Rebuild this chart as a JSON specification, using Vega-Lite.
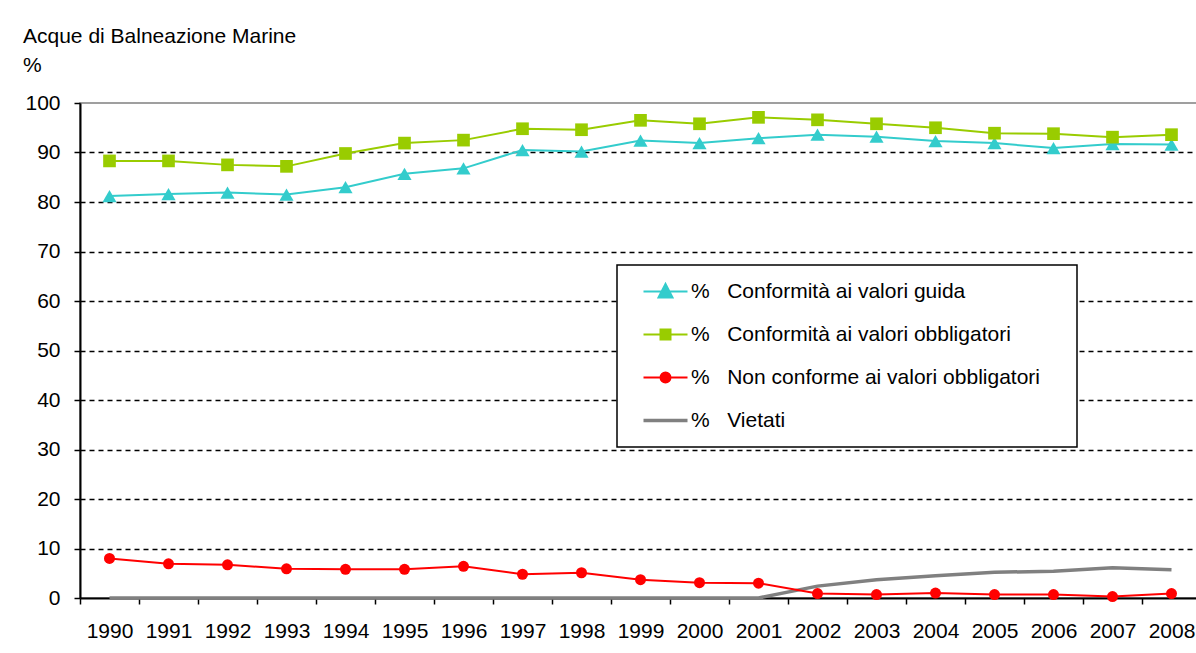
{
  "$schema": "https://vega.github.io/schema/vega-lite/v6.json",
  "width": 1121,
  "height": 495,
  "autosize": {"type": "none"},
  "padding": {"left": 80, "top": 103, "right": 0, "bottom": 55},
  "background": "white",
  "config": {
    "font": "Liberation Sans",
    "view": {"stroke": "#808080", "strokeWidth": 1.5}
  },
  "title": {
    "text": ["Acque di Balneazione Marine", "%"],
    "anchor": "start",
    "frame": "group",
    "dx": -57,
    "dy": 32,
    "fontSize": 21,
    "fontWeight": "normal",
    "font": "Liberation Sans",
    "color": "black",
    "lineHeight": 29,
    "baseline": "alphabetic",
    "offset": 31
  },
  "data": {
    "values": [
      {"year": "1990", "series": "Conformità ai valori guida", "value": 81.2},
      {"year": "1991", "series": "Conformità ai valori guida", "value": 81.6},
      {"year": "1992", "series": "Conformità ai valori guida", "value": 81.9},
      {"year": "1993", "series": "Conformità ai valori guida", "value": 81.5},
      {"year": "1994", "series": "Conformità ai valori guida", "value": 83.0},
      {"year": "1995", "series": "Conformità ai valori guida", "value": 85.7},
      {"year": "1996", "series": "Conformità ai valori guida", "value": 86.8},
      {"year": "1997", "series": "Conformità ai valori guida", "value": 90.5},
      {"year": "1998", "series": "Conformità ai valori guida", "value": 90.2},
      {"year": "1999", "series": "Conformità ai valori guida", "value": 92.4},
      {"year": "2000", "series": "Conformità ai valori guida", "value": 91.9},
      {"year": "2001", "series": "Conformità ai valori guida", "value": 92.9},
      {"year": "2002", "series": "Conformità ai valori guida", "value": 93.6},
      {"year": "2003", "series": "Conformità ai valori guida", "value": 93.2},
      {"year": "2004", "series": "Conformità ai valori guida", "value": 92.3},
      {"year": "2005", "series": "Conformità ai valori guida", "value": 91.9},
      {"year": "2006", "series": "Conformità ai valori guida", "value": 90.9},
      {"year": "2007", "series": "Conformità ai valori guida", "value": 91.7},
      {"year": "2008", "series": "Conformità ai valori guida", "value": 91.6},
      {"year": "1990", "series": "Conformità ai valori obbligatori", "value": 88.3},
      {"year": "1991", "series": "Conformità ai valori obbligatori", "value": 88.3},
      {"year": "1992", "series": "Conformità ai valori obbligatori", "value": 87.5},
      {"year": "1993", "series": "Conformità ai valori obbligatori", "value": 87.2},
      {"year": "1994", "series": "Conformità ai valori obbligatori", "value": 89.8},
      {"year": "1995", "series": "Conformità ai valori obbligatori", "value": 91.9},
      {"year": "1996", "series": "Conformità ai valori obbligatori", "value": 92.5},
      {"year": "1997", "series": "Conformità ai valori obbligatori", "value": 94.8},
      {"year": "1998", "series": "Conformità ai valori obbligatori", "value": 94.6},
      {"year": "1999", "series": "Conformità ai valori obbligatori", "value": 96.5},
      {"year": "2000", "series": "Conformità ai valori obbligatori", "value": 95.8},
      {"year": "2001", "series": "Conformità ai valori obbligatori", "value": 97.1},
      {"year": "2002", "series": "Conformità ai valori obbligatori", "value": 96.6},
      {"year": "2003", "series": "Conformità ai valori obbligatori", "value": 95.8},
      {"year": "2004", "series": "Conformità ai valori obbligatori", "value": 95.0},
      {"year": "2005", "series": "Conformità ai valori obbligatori", "value": 93.9},
      {"year": "2006", "series": "Conformità ai valori obbligatori", "value": 93.8},
      {"year": "2007", "series": "Conformità ai valori obbligatori", "value": 93.1},
      {"year": "2008", "series": "Conformità ai valori obbligatori", "value": 93.6},
      {"year": "1990", "series": "Non conforme ai valori obbligatori", "value": 8.0},
      {"year": "1991", "series": "Non conforme ai valori obbligatori", "value": 6.9},
      {"year": "1992", "series": "Non conforme ai valori obbligatori", "value": 6.7},
      {"year": "1993", "series": "Non conforme ai valori obbligatori", "value": 5.9},
      {"year": "1994", "series": "Non conforme ai valori obbligatori", "value": 5.8},
      {"year": "1995", "series": "Non conforme ai valori obbligatori", "value": 5.8},
      {"year": "1996", "series": "Non conforme ai valori obbligatori", "value": 6.4},
      {"year": "1997", "series": "Non conforme ai valori obbligatori", "value": 4.8},
      {"year": "1998", "series": "Non conforme ai valori obbligatori", "value": 5.1},
      {"year": "1999", "series": "Non conforme ai valori obbligatori", "value": 3.7},
      {"year": "2000", "series": "Non conforme ai valori obbligatori", "value": 3.1},
      {"year": "2001", "series": "Non conforme ai valori obbligatori", "value": 3.0},
      {"year": "2002", "series": "Non conforme ai valori obbligatori", "value": 0.9},
      {"year": "2003", "series": "Non conforme ai valori obbligatori", "value": 0.7},
      {"year": "2004", "series": "Non conforme ai valori obbligatori", "value": 1.0},
      {"year": "2005", "series": "Non conforme ai valori obbligatori", "value": 0.7},
      {"year": "2006", "series": "Non conforme ai valori obbligatori", "value": 0.7},
      {"year": "2007", "series": "Non conforme ai valori obbligatori", "value": 0.3},
      {"year": "2008", "series": "Non conforme ai valori obbligatori", "value": 0.9},
      {"year": "1990", "series": "Vietati", "value": 0},
      {"year": "1991", "series": "Vietati", "value": 0},
      {"year": "1992", "series": "Vietati", "value": 0},
      {"year": "1993", "series": "Vietati", "value": 0},
      {"year": "1994", "series": "Vietati", "value": 0},
      {"year": "1995", "series": "Vietati", "value": 0},
      {"year": "1996", "series": "Vietati", "value": 0},
      {"year": "1997", "series": "Vietati", "value": 0},
      {"year": "1998", "series": "Vietati", "value": 0},
      {"year": "1999", "series": "Vietati", "value": 0},
      {"year": "2000", "series": "Vietati", "value": 0},
      {"year": "2001", "series": "Vietati", "value": 0},
      {"year": "2002", "series": "Vietati", "value": 2.4},
      {"year": "2003", "series": "Vietati", "value": 3.7},
      {"year": "2004", "series": "Vietati", "value": 4.5},
      {"year": "2005", "series": "Vietati", "value": 5.2},
      {"year": "2006", "series": "Vietati", "value": 5.4},
      {"year": "2007", "series": "Vietati", "value": 6.1},
      {"year": "2008", "series": "Vietati", "value": 5.7}
    ]
  },
  "encoding": {
    "x": {
      "field": "year",
      "type": "ordinal",
      "bandPosition": 0.5,
      "scale": {"type": "band", "paddingInner": 0, "paddingOuter": 0},
      "axis": {
        "title": null,
        "labelAngle": 0,
        "tickBand": "extent",
        "labelFontSize": 21,
        "labelFont": "Liberation Sans",
        "labelColor": "black",
        "labelPadding": 16,
        "tickSize": 6,
        "tickColor": "black",
        "tickWidth": 1.5,
        "domainColor": "black",
        "domainWidth": 2,
        "grid": false,
        "labelOverlap": false,
        "zindex": 0
      }
    },
    "y": {
      "field": "value",
      "type": "quantitative",
      "scale": {"domain": [0, 100], "nice": false},
      "axis": {
        "title": null,
        "values": [0, 10, 20, 30, 40, 50, 60, 70, 80, 90, 100],
        "labelFontSize": 21,
        "labelFont": "Liberation Sans",
        "labelColor": "black",
        "labelPadding": 14,
        "tickSize": 6,
        "tickColor": "black",
        "tickWidth": 1.5,
        "domainColor": "black",
        "domainWidth": 2,
        "grid": true,
        "gridColor": "black",
        "gridDash": [5, 4],
        "gridWidth": 1.5,
        "zindex": 0,
        "gridOpacity": {"condition": {"test": "datum.value === 0 || datum.value === 100", "value": 0}, "value": 1}
      }
    },
    "color": {
      "field": "series",
      "type": "nominal",
      "scale": {
        "domain": ["Conformità ai valori guida", "Conformità ai valori obbligatori", "Non conforme ai valori obbligatori", "Vietati"],
        "range": ["#33cccc", "#99cc00", "#ff0000", "#808080"]
      },
      "legend": {
        "title": null,
        "orient": "none",
        "legendX": 537,
        "legendY": 162,
        "strokeColor": "black",
        "fillColor": "white",
        "padding": 16,
        "labelFontSize": 21,
        "labelFont": "Liberation Sans",
        "labelColor": "black",
        "labelLimit": 600,
        "symbolSize": 400,
        "symbolOffset": 22,
        "labelOffset": 15,
        "rowPadding": 21,
        "labelExpr": "'%\u00a0\u00a0\u00a0' + datum.label + '\u00a0\u2800'",
        "encode": {
          "legend": {"update": {"strokeWidth": {"value": 1.5}}},
          "symbols": {
            "update": {
              "shape": {"signal": "datum.value === 'Vietati' ? 'M-2.2,0H2.2' : datum.value === 'Conformità ai valori guida' ? 'M-2.2,0H2.2M-0.7,0.6L0,-0.75L0.7,0.6Z' : datum.value === 'Conformità ai valori obbligatori' ? 'M-2.2,0H2.2M-0.5,-0.5H0.5V0.5H-0.5Z' : 'M-2.2,0H2.2M0.5,0A0.5,0.5 0 1 1 -0.5,0A0.5,0.5 0 1 1 0.5,0Z'"},
              "fill": {"scale": "color", "field": "value"},
              "stroke": {"scale": "color", "field": "value"},
              "strokeWidth": {"signal": "datum.value === 'Vietati' ? 3.5 : 2"},
              "opacity": {"value": 1}
            }
          }
        }
      }
    }
  },
  "layer": [
    {
      "transform": [{"filter": "datum.series === 'Vietati'"}],
      "mark": {"type": "line", "strokeWidth": 3.5}
    },
    {
      "transform": [{"filter": "datum.series !== 'Vietati'"}],
      "mark": {"type": "line", "strokeWidth": 2}
    },
    {
      "transform": [{"filter": "datum.series !== 'Vietati'"}],
      "mark": {"type": "point", "filled": true, "opacity": 1, "strokeWidth": 0},
      "encoding": {
        "shape": {
          "field": "series",
          "type": "nominal",
          "scale": {
            "domain": ["Conformità ai valori guida", "Conformità ai valori obbligatori", "Non conforme ai valori obbligatori"],
            "range": ["triangle-up", "square", "circle"]
          },
          "legend": null
        },
        "size": {
          "field": "series",
          "type": "ordinal",
          "scale": {
            "domain": ["Conformità ai valori guida", "Conformità ai valori obbligatori", "Non conforme ai valori obbligatori"],
            "range": [200, 121, 100]
          },
          "legend": null
        }
      }
    }
  ]
}
